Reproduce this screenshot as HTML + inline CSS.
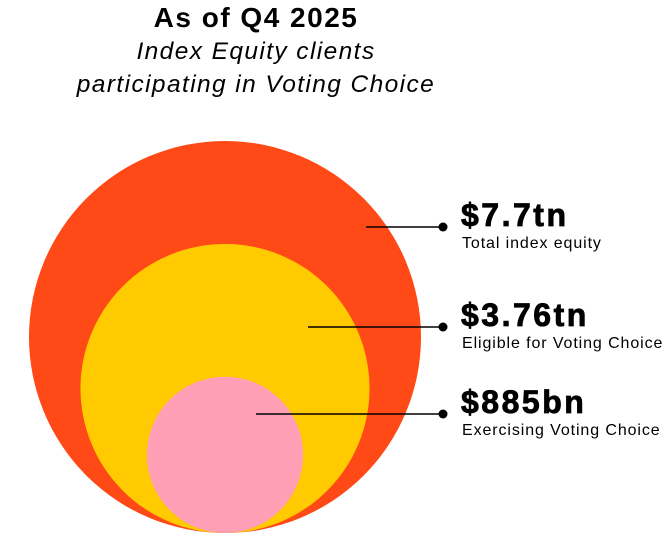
<!DOCTYPE html>
<html><head><meta charset="utf-8"><style>
body{margin:0;background:#fff;width:671px;height:547px;overflow:hidden;font-family:"Liberation Sans",sans-serif;}
svg{display:block}
</style></head><body>
<svg id="chart" width="671" height="547">
<text x="256" y="27" text-anchor="middle" font-size="28" font-weight="bold" letter-spacing="1.5" fill="#000">As of Q4 2025</text>
<text x="256" y="59" text-anchor="middle" font-size="24.5" font-style="italic" letter-spacing="1.4" fill="#000">Index Equity clients</text>
<text x="256" y="92" text-anchor="middle" font-size="24.5" font-style="italic" letter-spacing="1.4" fill="#000">participating in Voting Choice</text>
<g id="circles"></g><g id="labels"></g>
</svg>
<script>
const categories=["Total index equity","Eligible for Voting Choice","Exercising Voting Choice"];
const values=[7.7,3.76,0.885];
const valueLabels=["$7.7tn","$3.76tn","$885bn"];
const colors=["#ff4a17","#ffcb00","#ff9fb6"];
const names=["total-index-equity","eligible-voting-choice","exercising-voting-choice"];
const maxV=Math.max(...values);
const rScale=v=>196*Math.pow(v/maxV,0.425);
const cx=225,bottom=533;
const ns="http://www.w3.org/2000/svg";
const gc=document.getElementById('circles'),gl=document.getElementById('labels');
const lineY=[227,327,414];
const startXs=[366,308,256];
values.forEach((v,i)=>{
 const r=rScale(v);
 const c=document.createElementNS(ns,'circle');
 c.setAttribute('cx',cx);c.setAttribute('cy',bottom-r);c.setAttribute('r',r);c.setAttribute('fill',colors[i]);
 
 
 gc.appendChild(c);
});
values.forEach((v,i)=>{
 const y=lineY[i];
 const l=document.createElementNS(ns,'line');
 l.setAttribute('x1',startXs[i]);l.setAttribute('x2',443);l.setAttribute('y1',y);l.setAttribute('y2',y);
 l.setAttribute('stroke','#000');l.setAttribute('stroke-width','1.5');
 
 
 gl.appendChild(l);
 const d=document.createElementNS(ns,'circle');
 d.setAttribute('cx',443);d.setAttribute('cy',y);d.setAttribute('r',4.5);d.setAttribute('fill','#000');
 
 
 gl.appendChild(d);
 const t=document.createElementNS(ns,'text');
 t.setAttribute('x',461);t.setAttribute('y',y-1);t.setAttribute('font-size','32');t.setAttribute('font-weight','bold');
 t.setAttribute('letter-spacing','2.5');t.setAttribute('stroke','#000');t.setAttribute('stroke-width','0.8');
 t.textContent=valueLabels[i];
 
 
 gl.appendChild(t);
 const s=document.createElementNS(ns,'text');
 s.setAttribute('x',462);s.setAttribute('y',y+21);s.setAttribute('font-size','16');s.setAttribute('letter-spacing','0.9');
 s.textContent=categories[i];
 
 
 gl.appendChild(s);
});
</script>
</body></html>
